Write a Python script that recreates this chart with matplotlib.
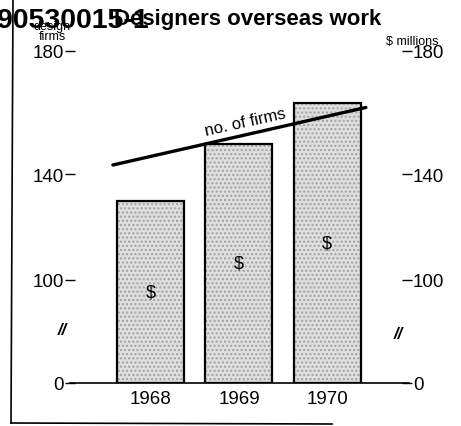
import numpy as np
import matplotlib
matplotlib.use("Agg")
import matplotlib.pyplot as plt
from matplotlib.lines import Line2D

plt.rcParams['font.family'] = ['Liberation Sans', 'DejaVu Sans']

# data
years = ['1968', '1969', '1970']
dollars = [130, 150, 163]       # $ millions (bars)
firms = [146, 152, 159]         # no. of design firms (line)
yticks = [0, 100, 140, 180]

# the axis is hand drawn with a break below 100, so map values piecewise
brk_vals = np.array([0, 100, 140, 180])
brk_pos = np.array([0, 103, 208, 331])


def fwd(v):
    v = np.asarray(v, dtype=float)
    out = np.interp(v, brk_vals, brk_pos)
    hi = v > brk_vals[-1]
    out[hi] = brk_pos[-1] + (v[hi] - brk_vals[-1]) * 123 / 40
    lo = v < 0
    out[lo] = v[lo] * 1.03
    return out


def inv(d):
    d = np.asarray(d, dtype=float)
    out = np.interp(d, brk_pos, brk_vals)
    hi = d > brk_pos[-1]
    out[hi] = brk_vals[-1] + (d[hi] - brk_pos[-1]) * 40 / 123
    lo = d < 0
    out[lo] = d[lo] / 1.03
    return out


fig = plt.figure(figsize=(4.61, 4.27), dpi=100)
W, H = 461, 427
ax = fig.add_axes([75 / W, (H - 384) / H, (402 - 75) / W, (384 - 52) / H])
ax.set_yscale('function', functions=(fwd, inv))

x = np.arange(len(years))
ax.bar(x, dollars, width=0.76, color='#dedede', edgecolor='#a0a0a0',
       hatch='....', linewidth=0, zorder=1)
ax.bar(x, dollars, width=0.76, fill=False, edgecolor='black', linewidth=1.6, zorder=2)

for xi, v in zip(x, dollars):
    ymid = inv(fwd([v])[0] / 2 * np.ones(1))[0]
    ax.text(xi, ymid, '$', ha='center', va='center', fontsize=13, zorder=3)

# no. of firms trend line, extended a little past the end bars
k, b = np.polyfit(x, firms, 1)
xl = np.array([-0.43, 2.44])
ax.plot(xl, k * xl + b, color='black', linewidth=2.4, zorder=4, solid_capstyle='round')
ax.text(1.07, 157.0, 'no. of firms', rotation=12.5, ha='center', va='center',
        fontsize=12, zorder=5)

ax.set_xlim(-0.86, 2.85)
ax.set_ylim(0, 180)
ax.set_xticks(x)
ax.set_xticklabels(years, fontsize=13.5)
ax.set_yticks(yticks)
ax.set_yticklabels([str(t) for t in yticks], fontsize=13.5)
ax.tick_params(axis='x', length=0, pad=5)
ax.tick_params(axis='y', direction='out', length=7, width=1, pad=1,
               left=True, right=True, labelleft=True, labelright=True)
for s in ax.spines.values():
    s.set_visible(False)
ax.plot([-0.015, 1.02], [0, 0], transform=ax.get_yaxis_transform(),
        color='black', linewidth=1.2, clip_on=False, zorder=3)

# axis break marks
ax.text(-0.04, 52, '//', transform=ax.get_yaxis_transform(), ha='center',
        va='center', fontsize=12, style='italic', fontweight='bold')
ax.text(0.99, 48, '//', transform=ax.get_yaxis_transform(), ha='center',
        va='center', fontsize=12, style='italic', fontweight='bold')

# titles and axis captions
fig.text(248 / W, 1 - 20 / H, 'Designers overseas work', ha='center', va='center',
         fontsize=16, fontweight='bold')
fig.text(-3 / W, 1 - 21 / H, '90530015-1', ha='left', va='center',
         fontsize=20.5, fontweight='bold')
fig.text(52 / W, 1 - 27 / H, 'design', ha='center', va='center', fontsize=9)
fig.text(52 / W, 1 - 37 / H, 'firms', ha='center', va='center', fontsize=9)
fig.text(438 / W, 1 - 42 / H, '$ millions', ha='right', va='center', fontsize=9)

# scan frame
fig.add_artist(Line2D([13 / W, 11 / W], [1.0, 1 - 424 / H], color='black', linewidth=1.2))
fig.add_artist(Line2D([11 / W, 332 / W], [1 - 424 / H, 1 - 425 / H], color='black', linewidth=1.2))

fig.savefig('out.png', dpi=100)
